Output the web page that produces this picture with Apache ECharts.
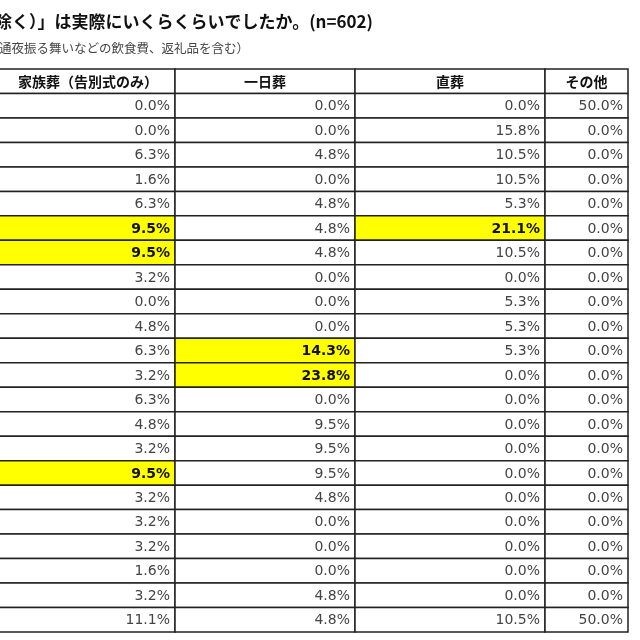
<!DOCTYPE html>
<html><head><meta charset="utf-8">
<script src="https://cdn.jsdelivr.net/npm/echarts@6/dist/echarts.min.js"></script>
<style>html,body{margin:0;padding:0;background:#fff}#c{width:640px;height:640px}</style>
</head><body><div id="c"></div>
<script>
const headers = ['家族葬（告別式のみ）', '一日葬', '直葬', 'その他'];
const colKazoku = [0.0,0.0,6.3,1.6,6.3,9.5,9.5,3.2,0.0,4.8,6.3,3.2,6.3,4.8,3.2,9.5,3.2,3.2,3.2,1.6,3.2,11.1];
const colIchinichi = [0.0,0.0,4.8,0.0,4.8,4.8,4.8,0.0,0.0,0.0,14.3,23.8,0.0,9.5,9.5,9.5,4.8,0.0,0.0,0.0,4.8,4.8];
const colChokusou = [0.0,15.8,10.5,10.5,5.3,21.1,10.5,0.0,5.3,5.3,5.3,0.0,0.0,0.0,0.0,0.0,0.0,0.0,0.0,0.0,0.0,10.5];
const colSonota = [50.0,0.0,0.0,0.0,0.0,0.0,0.0,0.0,0.0,0.0,0.0,0.0,0.0,0.0,0.0,0.0,0.0,0.0,0.0,0.0,0.0,50.0];
const highlights = [[5,0],[6,0],[15,0],[10,1],[11,1],[5,2]]; // [row, col]
const title = '除く）」は実際にいくらくらいでしたか。(n=602)';
const subtitle = '通夜振る舞いなどの飲食費、返礼品を含む）';

const cols = [colKazoku, colIchinichi, colChokusou, colSonota];
const edges = [-20, 175, 355, 545, 628];
const rowCats = ['h'].concat(colKazoku.map((_, i) => 'r' + i));
const hlSet = new Set(highlights.map(h => h[0] + '_' + h[1]));

const data = [];
headers.forEach((h, c) => data.push({value: [0, 0], row: 0, col: c, text: h, header: true}));
cols.forEach((arr, c) => arr.forEach((v, r) => data.push({value: [0, r + 1], row: r + 1, col: c, text: v.toFixed(1) + '%', hl: hlSet.has(r + '_' + c)})));

const chart = echarts.init(document.getElementById('c'));
chart.setOption({
  animation: false,
  title: [
    {text: title, left: -10, top: 8, textStyle: {fontFamily: 'Noto Sans CJK JP', fontSize: 17, fontWeight: 'bold', color: '#111'}},
    {text: subtitle, left: -6, top: 37, textStyle: {fontFamily: 'Noto Sans CJK JP', fontSize: 12.5, fontWeight: 'normal', color: '#444'}}
  ],
  grid: {left: 0, right: 12, top: 69, bottom: 8},
  xAxis: {type: 'value', min: 0, max: 628, show: false},
  yAxis: {type: 'category', data: rowCats, inverse: true, show: false},
  series: [{
    type: 'custom',
    clip: false,
    data: data,
    renderItem: function (params, api) {
      const d = data[params.dataIndex];
      const x0 = edges[d.col], x1 = edges[d.col + 1];
      const p0 = api.coord([x0, d.row]);
      const p1 = api.coord([x1, d.row]);
      const h = api.size([0, 1])[1];
      const y0 = p0[1] - h / 2;
      const children = [{
        type: 'rect',
        shape: {x: p0[0], y: y0, width: p1[0] - p0[0], height: h},
        style: {fill: d.hl ? '#ffff00' : '#fff', stroke: '#222', lineWidth: 1.5}
      }];
      if (d.header) {
        const cx = d.col === 0 ? 88 : (p0[0] + p1[0]) / 2;
        children.push({type: 'text', style: {text: d.text, x: cx, y: p0[1], align: 'center', verticalAlign: 'middle',
          font: 'bold 14px "Noto Sans CJK JP"', fill: '#111'}});
      } else {
        children.push({type: 'text', style: {text: d.text, x: p1[0] - 5, y: p0[1] + 1, align: 'right', verticalAlign: 'middle',
          font: (d.hl ? 'bold ' : '') + '14px "DejaVu Sans"', fill: d.hl ? '#111' : '#444'}});
      }
      return {type: 'group', children: children};
    }
  }]
});
</script></body></html>
